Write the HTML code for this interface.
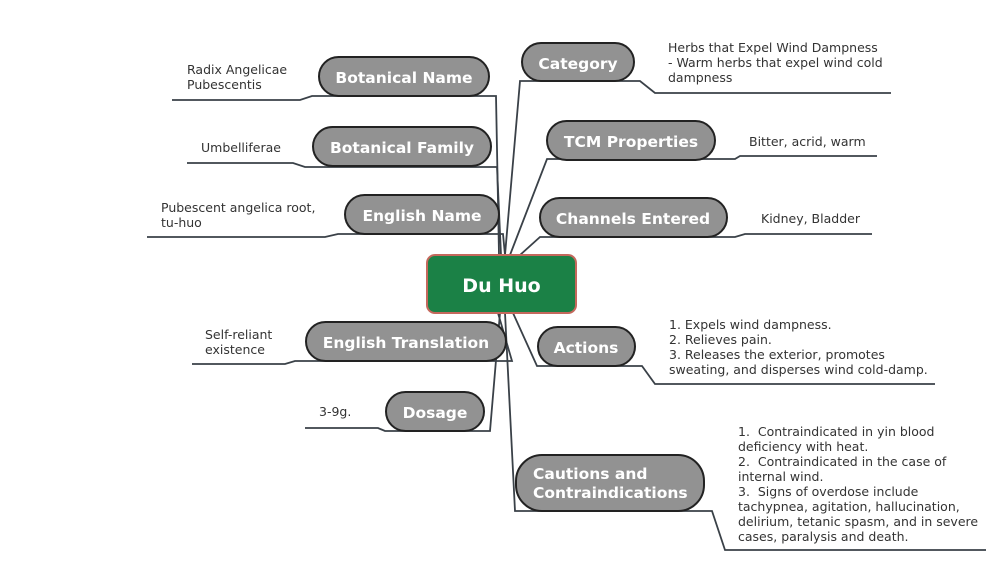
<!DOCTYPE html>
<html><head><meta charset="utf-8"><style>
html,body{margin:0;padding:0;background:#fff;width:1003px;height:568px;overflow:hidden}
svg{display:block}
.n{fill:#929292;stroke:#222;stroke-width:2}
.t{font-family:"DejaVu Sans","Liberation Sans",sans-serif;font-weight:bold;font-size:15.5px;fill:#fff}
.l{font-family:"DejaVu Sans","Liberation Sans",sans-serif;font-size:12.5px;fill:#333;white-space:pre}
.c{fill:none;stroke:#3a4148;stroke-width:1.8}
</style></head><body>
<svg width="1003" height="568" viewBox="0 0 1003 568">
<g class="c">
<polyline points="172,100 300,100 312,96 496,96 499,255"/>
<polyline points="187,163 293,163 305,167 497,167 501,255"/>
<polyline points="147,237 325,237 338,234 503,234 505,255"/>
<polyline points="505,255 520,81 640,81 655,93 891,93"/>
<polyline points="510,255 547,159 735,159 740,156 877,156"/>
<polyline points="520,255 540,237 735,237 745,234 872,234"/>
<polyline points="498,313 512,361 295,361 285,364 192,364"/>
<polyline points="500,313 490,431 385,431 378,428 305,428"/>
<polyline points="513,313 537,366 642,366 655,384 935,384"/>
<polyline points="505,313 515,511 712,511 725,550 986,550"/>
</g>
<rect x="427" y="255" width="149" height="58" rx="8" fill="#1b8146" stroke="#c4685c" stroke-width="2"/>
<text x="501.5" y="292" text-anchor="middle" class="t" style="font-size:19px">Du Huo</text>

<rect class="n" x="319" y="57" width="170" height="39" rx="19.5"/><text class="t" x="404" y="83" text-anchor="middle">Botanical Name</text>
<rect class="n" x="313" y="127" width="178" height="39" rx="19.5"/><text class="t" x="402" y="153" text-anchor="middle">Botanical Family</text>
<rect class="n" x="345" y="195" width="154" height="39" rx="19.5"/><text class="t" x="422" y="221" text-anchor="middle">English Name</text>
<rect class="n" x="522" y="43" width="112" height="38" rx="19"/><text class="t" x="578" y="69" text-anchor="middle">Category</text>
<rect class="n" x="547" y="121" width="168" height="39" rx="19.5"/><text class="t" x="631" y="147" text-anchor="middle">TCM Properties</text>
<rect class="n" x="540" y="198" width="187" height="39" rx="19.5"/><text class="t" x="633" y="224" text-anchor="middle">Channels Entered</text>
<rect class="n" x="306" y="322" width="200" height="39" rx="19.5"/><text class="t" x="406" y="348" text-anchor="middle">English Translation</text>
<rect class="n" x="386" y="392" width="98" height="39" rx="19.5"/><text class="t" x="435" y="418" text-anchor="middle">Dosage</text>
<rect class="n" x="538" y="327" width="97" height="39" rx="19.5"/><text class="t" x="586" y="353" text-anchor="middle">Actions</text>
<rect class="n" x="516" y="455" width="188" height="56" rx="26"/>
<text class="t" x="533" y="479">Cautions and</text><text class="t" x="533" y="498">Contraindications</text>

<text class="l" x="187" y="74">Radix Angelicae</text><text class="l" x="187" y="89">Pubescentis</text>
<text class="l" x="201" y="152">Umbelliferae</text>
<text class="l" x="161" y="212">Pubescent angelica root,</text><text class="l" x="161" y="227">tu-huo</text>
<text class="l" x="668" y="52">Herbs that Expel Wind Dampness</text>
<text class="l" x="668" y="67">- Warm herbs that expel wind cold</text>
<text class="l" x="668" y="82">dampness</text>
<text class="l" x="749" y="146">Bitter, acrid, warm</text>
<text class="l" x="761" y="223">Kidney, Bladder</text>
<text class="l" x="205" y="339">Self-reliant</text><text class="l" x="205" y="354">existence</text>
<text class="l" x="319" y="416">3-9g.</text>
<text class="l" x="669" y="329">1. Expels wind dampness.</text>
<text class="l" x="669" y="344">2. Relieves pain.</text>
<text class="l" x="669" y="359">3. Releases the exterior, promotes</text>
<text class="l" x="669" y="374">sweating, and disperses wind cold-damp.</text>
<text class="l" x="738" y="436" xml:space="preserve">1.  Contraindicated in yin blood</text>
<text class="l" x="738" y="451">deficiency with heat.</text>
<text class="l" x="738" y="466" xml:space="preserve">2.  Contraindicated in the case of</text>
<text class="l" x="738" y="481">internal wind.</text>
<text class="l" x="738" y="496" xml:space="preserve">3.  Signs of overdose include</text>
<text class="l" x="738" y="511">tachypnea, agitation, hallucination,</text>
<text class="l" x="738" y="526">delirium, tetanic spasm, and in severe</text>
<text class="l" x="738" y="541">cases, paralysis and death.</text>
</svg>
</body></html>
